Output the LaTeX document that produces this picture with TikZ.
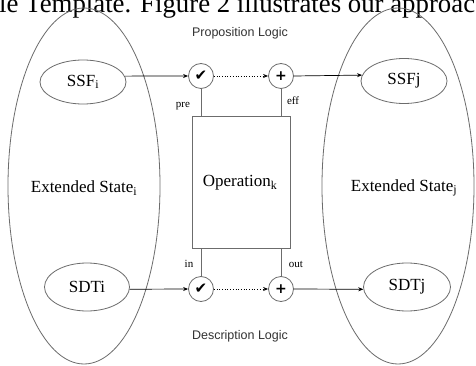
\documentclass[tikz,border=0pt]{standalone}
\usepackage{fontspec}
\setmainfont{Liberation Serif}
\newfontfamily\labsans{Liberation Sans}
\newfontfamily\symfont{DejaVu Sans}
\usetikzlibrary{shapes.geometric,arrows.meta}
\begin{document}
\begin{tikzpicture}[x=1pt,y=-1pt,
  bigell/.style={draw=gray!85!black,line width=0.8pt,ellipse,inner sep=0pt,minimum width=152pt,minimum height=356pt},
  smallell/.style={draw=gray!85!black,line width=0.8pt,ellipse,inner sep=0pt,font=\fontsize{17}{17}\selectfont},
  opcircle/.style={draw=gray!85!black,line width=0.8pt,circle,inner sep=0pt,minimum size=25pt},
  opbox/.style={draw=gray!85!black,line width=0.8pt,rectangle,inner sep=0pt},
  serlab/.style={font=\fontsize{17}{17}\selectfont,inner sep=0pt},
  smalllab/.style={font=\fontsize{11}{11}\selectfont,inner sep=0pt},
  logiclab/.style={font=\labsans\fontsize{12.5}{12.5}\selectfont,text=black!80,inner sep=0pt},
  flow/.style={line width=0.7pt,-{Stealth[length=5pt,width=4pt]}},
  dotflow/.style={line width=0.7pt,dotted,-{Stealth[length=5pt,width=4pt]}},
  tie/.style={draw=gray!85!black,line width=0.8pt},
  chkmark/.style={font=\symfont\fontsize{15}{15}\selectfont},
  plusmark/.style={font=\symfont\bfseries\fontsize{14}{14}\selectfont}
]
\useasboundingbox (0,0) rectangle (476,366);
\clip (0,0) rectangle (476,366);
\fill[white] (0,0) rectangle (476,366);
% cropped text line at the top
\node[anchor=base west,inner sep=0pt,font=\fontsize{26.8}{26.8}\selectfont] (toptext) at (-1,12.5) {le Template. Figure 2 illustrates our approac};
% big ellipses
\node[bigell] (bigL) at (84,186) {};
\node[bigell] (bigR) at (398,186) {};
\node[serlab] (extI) at (84,188) {Extended State\textsubscript{i}};
\node[serlab] (extJ) at (404,188) {Extended State\textsubscript{j}};
% small ellipses
\node[smallell,minimum width=86pt,minimum height=44pt] (ssfi) at (83,82) {SSF\textsubscript{i}};
\node[smallell,minimum width=86pt,minimum height=45pt] (ssfj) at (404,81) {SSFj};
\node[smallell,minimum width=85pt,minimum height=48pt] (sdti) at (87,287) {SDTi};
\node[smallell,minimum width=87pt,minimum height=48pt] (sdtj) at (407,287) {SDTj};
% operator circles
\node[opcircle,chkmark] (chk1) at (201,76) {✔};
\node[opcircle,plusmark] (plus1) at (281,76) {+};
\node[opcircle,chkmark] (chk2) at (201,289) {✔};
\node[opcircle,plusmark] (plus2) at (281,289) {+};
% operation box
\node[opbox,minimum width=98pt,minimum height=132pt] (op) at (241,182) {};
\node[serlab] (optext) at (240,183) {Operation\textsubscript{k}};
% connectors
\draw[flow] (ssfi.8) -- (chk1.west);
\draw[dotflow] (chk1.east) -- (plus1.west);
\draw[flow] (plus1.east) -- (ssfj.172);
\draw[flow] (sdti.-3) -- (chk2.west);
\draw[dotflow] (chk2.east) -- (plus2.west);
\draw[flow] (plus2.east) -- (sdtj.183);
\draw[tie] (chk1.south) -- (chk1.south |- op.north);
\draw[tie] (plus1.south) -- (plus1.south |- op.north);
\draw[tie] (chk2.north) -- (chk2.north |- op.south);
\draw[tie] (plus2.north) -- (plus2.north |- op.south);
% small labels
\node[smalllab] (pre) at (183,106) {pre};
\node[smalllab] (eff) at (293,101) {eff};
\node[smalllab] (in) at (189,264) {in};
\node[smalllab] (out) at (296,264) {out};
% logic labels
\node[logiclab] (prop) at (240,33) {Proposition Logic};
\node[logiclab] (desc) at (240,336) {Description Logic};
\end{tikzpicture}
\end{document}
